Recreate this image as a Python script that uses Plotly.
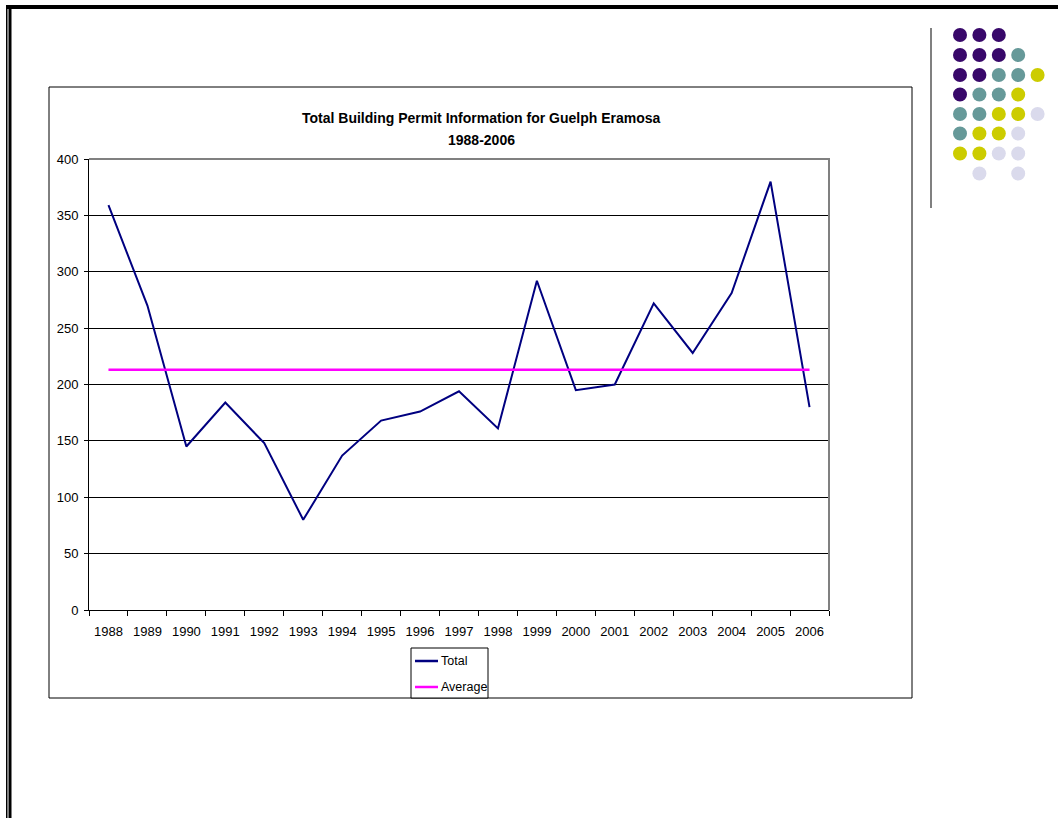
import plotly.graph_objects as go

# Building permit totals, Guelph Eramosa
years = ["1988", "1989", "1990", "1991", "1992", "1993", "1994", "1995", "1996", "1997",
         "1998", "1999", "2000", "2001", "2002", "2003", "2004", "2005", "2006"]
total_permits = [359, 270, 145, 184, 148, 80, 137, 168, 176, 194,
                 161, 292, 195, 200, 272, 228, 281, 380, 180]
average_permits = [213] * len(years)

y_ticks = [0, 50, 100, 150, 200, 250, 300, 350, 400]

series_names = ["Total", "Average"]
series_colors = ["#000080", "#FF00FF"]

# Decorative dot motif (P purple, T teal, Y yellow, L lavender)
dot_rows = ["PPP..", "PPPT.", "PPTTY", "PTTY.", "TTYYL", "TYYL.", "YYLL.", ".L.L."]
dot_colors = {"P": "#38086A", "T": "#669999", "Y": "#CCCC00", "L": "#DADAEC"}

W, H = 1058, 818
FONT = "Liberation Sans, Arial, sans-serif"


def px(x):
    return x / W


def py(y):
    return 1 - y / H


fig = go.Figure()
fig.add_trace(go.Scatter(x=years, y=total_permits, mode="lines", name=series_names[0],
                         line=dict(color=series_colors[0], width=2)))
fig.add_trace(go.Scatter(x=years, y=average_permits, mode="lines", name=series_names[1],
                         line=dict(color=series_colors[1], width=2.5)))

shapes = []
annotations = []
# chart frame
shapes.append(dict(type="rect", xref="paper", yref="paper", layer="below",
                   x0=px(49), x1=px(912), y0=py(698), y1=py(87),
                   line=dict(color="black", width=1), fillcolor="white"))
# plot area top and right edges
shapes.append(dict(type="line", xref="paper", yref="paper", layer="above",
                   x0=px(89), x1=px(830), y0=py(159), y1=py(159),
                   line=dict(color="#808080", width=2)))
shapes.append(dict(type="line", xref="paper", yref="paper", layer="above",
                   x0=px(829), x1=px(829), y0=py(159), y1=py(610),
                   line=dict(color="#808080", width=2)))
# page border
shapes.append(dict(type="rect", xref="paper", yref="paper", layer="above",
                   x0=px(6), x1=px(W), y0=py(9), y1=py(5),
                   line=dict(width=0), fillcolor="black"))
shapes.append(dict(type="rect", xref="paper", yref="paper", layer="above",
                   x0=px(6), x1=px(7.5), y0=py(H), y1=py(5),
                   line=dict(width=0), fillcolor="black"))
shapes.append(dict(type="rect", xref="paper", yref="paper", layer="above",
                   x0=px(8.5), x1=px(11.5), y0=py(H), y1=py(5),
                   line=dict(width=0), fillcolor="black"))
# side rule next to the motif
shapes.append(dict(type="line", xref="paper", yref="paper",
                   x0=px(931), x1=px(931), y0=py(208), y1=py(28),
                   line=dict(color="#808080", width=2)))
# dot motif
col_x = [960, 979.4, 998.8, 1018.2, 1037.6]
row_y = [35, 55, 75, 94.5, 114, 133.5, 153.5, 173.5]
r = 7
for ri, row in enumerate(dot_rows):
    for ci, ch in enumerate(row):
        if ch == ".":
            continue
        cx, cy = col_x[ci], row_y[ri]
        shapes.append(dict(type="circle", xref="paper", yref="paper",
                           x0=px(cx - r), x1=px(cx + r), y0=py(cy + r), y1=py(cy - r),
                           line=dict(width=0), fillcolor=dot_colors[ch]))

# legend box below the axis
shapes.append(dict(type="rect", xref="paper", yref="paper", layer="above",
                   x0=px(411), x1=px(488), y0=py(698), y1=py(648),
                   line=dict(color="black", width=1), fillcolor="white"))
for i, (name, color) in enumerate(zip(series_names, series_colors)):
    ly = 661 + 26 * i
    shapes.append(dict(type="line", xref="paper", yref="paper", layer="above",
                       x0=px(415), x1=px(438), y0=py(ly), y1=py(ly),
                       line=dict(color=color, width=2.5)))
    annotations.append(dict(text=name, xref="paper", yref="paper",
                            x=px(439), y=py(ly), showarrow=False,
                            xanchor="left", yanchor="middle",
                            font=dict(family=FONT, size=12.5, color="black")))

# chart title
annotations.append(dict(text="<b>Total Building Permit Information for Guelph Eramosa</b>",
                        xref="paper", yref="paper", x=px(481), y=py(118), showarrow=False,
                        xanchor="center", yanchor="middle",
                        font=dict(family=FONT, size=14, color="black")))
annotations.append(dict(text="<b>1988-2006</b>",
                        xref="paper", yref="paper", x=px(481), y=py(140.5), showarrow=False,
                        xanchor="center", yanchor="middle",
                        font=dict(family=FONT, size=14, color="black")))

fig.update_layout(
    width=W, height=H, autosize=False,
    margin=dict(l=0, r=0, t=0, b=0, pad=0, autoexpand=False),
    paper_bgcolor="white", plot_bgcolor="#C0C0C0",
    font=dict(family=FONT, size=13, color="black"),
    shapes=shapes, annotations=annotations,
    showlegend=False,
    xaxis=dict(domain=[px(89), px(829)], type="category", range=[-0.5, 18.5],
               automargin=False,
               showgrid=False, showline=True, linecolor="black", linewidth=1,
               ticks="outside", tickson="boundaries", ticklen=5, tickcolor="black",
               tickangle=0, ticklabelstandoff=9,
               tickfont=dict(family=FONT, size=13), fixedrange=True),
    yaxis=dict(domain=[py(610), py(159)], range=[0, 400], tickvals=y_ticks,
               automargin=False,
               showgrid=True, gridcolor="black", gridwidth=1, zeroline=False,
               showline=True, linecolor="black", linewidth=1,
               ticks="outside", ticklen=4, tickcolor="black", ticklabelstandoff=3,
               tickfont=dict(family=FONT, size=13), fixedrange=True),
)

# page without default body margin
page_script = "document.body.style.margin='0';document.body.style.overflow='hidden';"

fig.write_html("out.html", post_script=page_script)
